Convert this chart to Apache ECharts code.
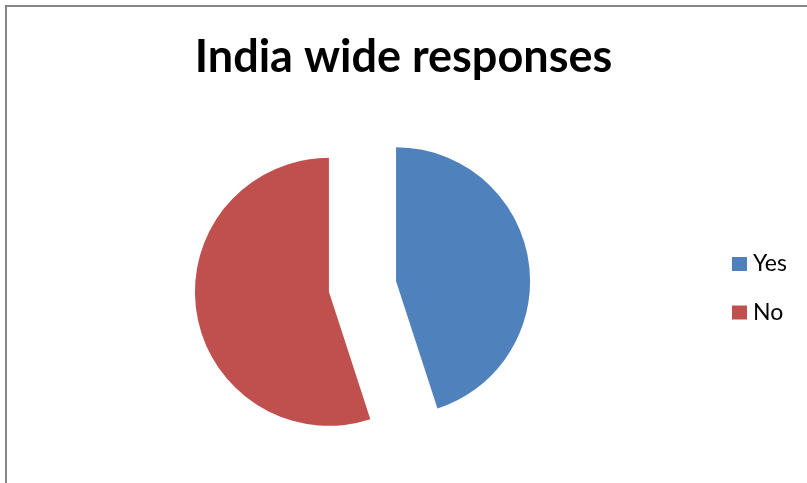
<!DOCTYPE html>
<html>
<head>
<meta charset="utf-8">
<script src="https://cdn.jsdelivr.net/npm/echarts@6/dist/echarts.min.js"></script>
<style>html,body{margin:0;padding:0;background:#fff;}#c{width:807px;height:483px;}</style>
</head>
<body>
<div id="c"></div>
<script>
const titleText = 'India wide responses';
const categories = ['Yes', 'No'];
const values = [45, 55];
const colors = ['#4F81BD', '#C0504D'];

const chart = echarts.init(document.getElementById('c'), null, {renderer: 'canvas'});
chart.setOption({
  animation: false,
  backgroundColor: '#fff',
  graphic: [{
    type: 'rect',
    shape: {x: 6, y: 6, width: 900, height: 600},
    style: {fill: 'none', stroke: '#868686', lineWidth: 2},
    silent: true
  }],
  title: {
    text: titleText,
    left: 'center',
    top: 35,
    itemGap: 0,
    padding: 0,
    textStyle: {fontFamily: 'Lato', fontWeight: 'bold', fontSize: 45, color: '#000'}
  },
  legend: {
    orient: 'vertical',
    left: 732,
    top: 252,
    padding: 0,
    icon: 'rect',
    itemWidth: 15,
    itemHeight: 14,
    itemGap: 24.5,
    selectedMode: false,
    textStyle: {fontFamily: 'Lato', fontSize: 23, color: '#000', lineHeight: 24, padding: [0, 0, 0, 1]},
    data: categories
  },
  series: [{
    type: 'pie',
    center: [362.5, 286.5],
    radius: 134,
    startAngle: 90,
    clockwise: true,
    selectedMode: 'multiple',
    selectedOffset: 34,
    label: {show: false},
    labelLine: {show: false},
    emphasis: {disabled: true},
    data: categories.map((c, i) => ({
      name: c, value: values[i], selected: true,
      itemStyle: {color: colors[i]}
    }))
  }]
});
</script>
</body>
</html>
